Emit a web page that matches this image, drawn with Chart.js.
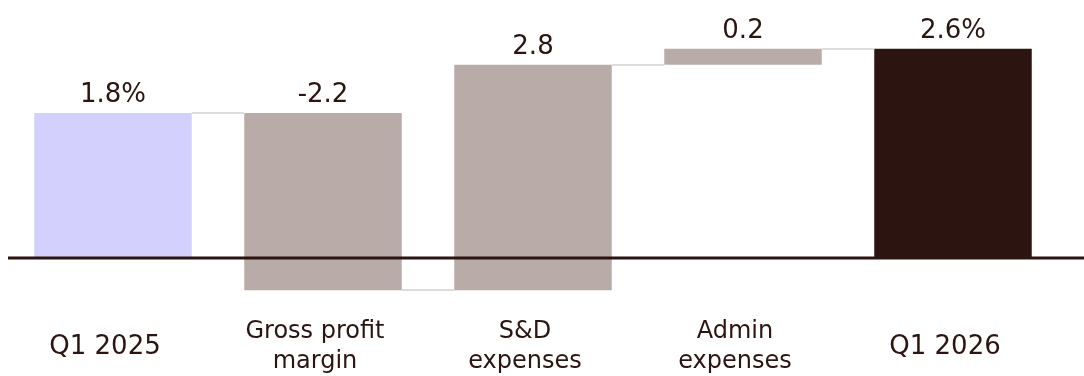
<!DOCTYPE html>
<html lang="en">

<head>
  <meta charset="UTF-8">
  <meta name="viewport" content="width=device-width, initial-scale=1.0">
  <title>Margin bridge Q1 2025 - Q1 2026</title>
  <script src="https://cdn.jsdelivr.net/npm/chart.js"></script>
  <style>
    html, body { margin: 0; padding: 0; background: #ffffff; }
    #box { width: 1084px; height: 376px; }
  </style>
</head>

<body>
  <div id="box">
    <canvas id="bridge"></canvas>
  </div>

  <script>
    // data
    const categories = [['Q1 2025'], ['Gross profit', 'margin'], ['S&D', 'expenses'], ['Admin', 'expenses'], ['Q1 2026']];
    const values = [1.8, -2.2, 2.8, 0.2, 2.6];
    const isTotal = [true, false, false, false, true];
    const valueLabels = ['1.8%', '-2.2', '2.8', '0.2', '2.6%'];
    const barColors = ['#d3d0fe', '#b9aba7', '#b9aba7', '#b9aba7', '#2c1510'];

    const dark = '#2c1510';
    const fontFamily = '"DejaVu Sans", sans-serif';

    // build the floating bars of the waterfall
    let ranges = [];
    let running = 0;
    for (let i = 0; i < values.length; i++) {
      if (isTotal[i]) {
        ranges.push([0, values[i]]);
        running = values[i];
      } else {
        ranges.push([running, running + values[i]]);
        running = running + values[i];
      }
    }

    // connectors, zero line and the numbers above the bars
    const bridgeExtras = {
      id: 'bridgeExtras',
      afterDatasetsDraw(chart) {
        const ctx = chart.ctx;
        const meta = chart.getDatasetMeta(0);
        const y = chart.scales.y;

        ctx.save();
        ctx.strokeStyle = '#dddddd';
        ctx.lineWidth = 2;
        for (let i = 0; i < ranges.length - 1; i++) {
          const bar = meta.data[i];
          const next = meta.data[i + 1];
          const py = Math.round(y.getPixelForValue(ranges[i][1]));
          ctx.beginPath();
          ctx.moveTo(bar.x + bar.width / 2, py);
          ctx.lineTo(next.x - next.width / 2, py);
          ctx.stroke();
        }

        const zero = y.getPixelForValue(0);
        ctx.strokeStyle = dark;
        ctx.lineWidth = 3;
        ctx.beginPath();
        ctx.moveTo(chart.chartArea.left, zero);
        ctx.lineTo(chart.width, zero);
        ctx.stroke();

        ctx.fillStyle = dark;
        ctx.font = '26px ' + fontFamily;
        ctx.textAlign = 'center';
        ctx.textBaseline = 'alphabetic';
        for (let i = 0; i < ranges.length; i++) {
          const bar = meta.data[i];
          const top = Math.max(ranges[i][0], ranges[i][1]);
          ctx.fillText(valueLabels[i], bar.x, y.getPixelForValue(top) - 11);
        }
        ctx.restore();
      }
    };

    const config = {
      type: 'bar',
      data: {
        labels: categories,
        datasets: [{
          data: ranges,
          backgroundColor: barColors,
          borderWidth: 0,
          borderSkipped: false,
          barPercentage: 0.75,
          categoryPercentage: 1.0
        }]
      },
      options: {
        responsive: true,
        maintainAspectRatio: false,
        animation: false,
        layout: {
          padding: { top: 16.5, left: 8, right: 26, bottom: 2 }
        },
        plugins: {
          legend: { display: false },
          tooltip: { enabled: false }
        },
        scales: {
          x: {
            grid: { display: false, drawTicks: false },
            border: { display: false },
            afterFit: function (scale) {
              scale.height = 75.75;
            },
            ticks: {
              color: dark,
              padding: 34,
              labelOffset: -8,
              crossAlign: 'center',
              maxRotation: 0,
              autoSkip: false,
              font: function (c) {
                if (c.index === 0 || c.index === 4) {
                  return { family: fontFamily, size: 26, lineHeight: '30px' };
                }
                return { family: fontFamily, size: 24, lineHeight: '30px' };
              }
            }
          },
          y: {
            display: false,
            min: -0.5,
            max: 3.0
          }
        }
      },
      plugins: [bridgeExtras]
    };

    new Chart(document.getElementById('bridge'), config);
  </script>
</body>

</html>
